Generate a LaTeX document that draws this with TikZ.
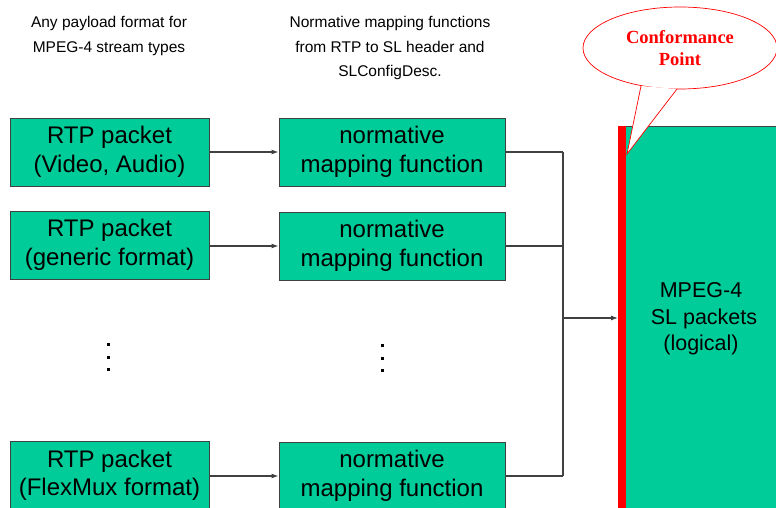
\documentclass[tikz,border=0pt]{standalone}
\usepackage{fontspec}
\setmainfont{Liberation Sans}
\newfontfamily\calloutfont{Liberation Serif}
\usetikzlibrary{shapes.geometric,arrows.meta}
\definecolor{boxgreen}{RGB}{0,204,153}
\definecolor{edgegray}{RGB}{64,64,64}
\tikzset{
  pkt/.style={draw=edgegray, line width=0.9pt, fill=boxgreen, minimum width=199pt, minimum height=68pt,
    inner sep=0pt, align=center, font=\fontsize{24}{28.5}\selectfont},
  mapbox/.style={pkt, minimum width=226pt},
  conn/.style={draw=edgegray, line width=1.1pt},
  arr/.style={conn, -{Latex[length=7pt,width=5pt]}},
  note/.style={align=center, font=\fontsize{15.5}{24.5}\selectfont},
  dotsq/.style={fill=black, minimum size=3pt, inner sep=0pt},
}
\begin{document}
\begin{tikzpicture}[x=1pt,y=-1pt]
\useasboundingbox (0,0) rectangle (776,508);
\clip (0,0) rectangle (776,508);
% top notes
\node[note] (n1) at (109,36) {Any payload format for\\MPEG-4 stream types};
\node[note] (n2) at (390,48) {Normative mapping functions\\from RTP to SL header and\\SLConfigDesc.};
% left boxes
\node[pkt] (r1) at (109.5,152) {RTP packet\\(Video, Audio)};
\node[pkt] (r2) at (109.5,245) {RTP packet\\(generic format)};
\node[pkt] (r3) at (109.5,475.5) {RTP packet\\(FlexMux format)};
% mapping boxes
\node[mapbox] (m1) at (392,152) {normative\\mapping function};
\node[mapbox] (m2) at (392,246) {normative\\mapping function};
\node[mapbox] (m3) at (392,476) {normative\\mapping function};
% dots
\foreach \y [count=\i] in {344,357,369} {
  \node[dotsq] (dl\i) at (108,\y) {};
  \node[dotsq] (dm\i) at (382,\y+1) {};
}
% big box
\node[draw=edgegray, line width=0.9pt, fill=boxgreen, minimum width=170pt, minimum height=400pt,
  anchor=north west, inner sep=0pt] (sl) at (618,126) {};
\fill[red] (618,126) rectangle (626,520);
\node[align=center, font=\fontsize{21.5}{26.5}\selectfont] (sltext) at (701,319) {MPEG-4\\\ SL packets\\(logical)};
\coordinate (slin) at (618,318);
% connectors
\draw[arr] (r1.east) -- (m1.west);
\draw[arr] (r2.east |- m2.west) -- (m2.west);
\draw[arr] (r3.east |- m3.west) -- (m3.west);
\coordinate (j1) at (563,152);
\coordinate (j2) at (563,246);
\coordinate (j3) at (563,476);
\coordinate (jm) at (563,318);
\draw[conn] (m1.east) -- (j1);
\draw[conn] (m2.east) -- (j2);
\draw[conn] (m3.east) -- (j3);
\draw[conn] (j1) -- (j3);
\draw[arr] (jm) -- (slin);
% callout
\node[ellipse, draw=red, fill=white, line width=0.7pt, minimum width=194pt, minimum height=82pt,
  inner sep=0pt, align=center, text=red, font=\calloutfont\bfseries\fontsize{18.5}{22}\selectfont]
  (cp) at (680,48) {Conformance\\Point};
\coordinate (ta) at (641,86);
\coordinate (tb) at (677,89);
\coordinate (tip) at (627,154);
\fill[white] (ta) -- (tip) -- (tb) -- cycle;
\draw[red, line width=0.7pt] (ta) -- (tip) -- (tb);
\end{tikzpicture}
\end{document}
